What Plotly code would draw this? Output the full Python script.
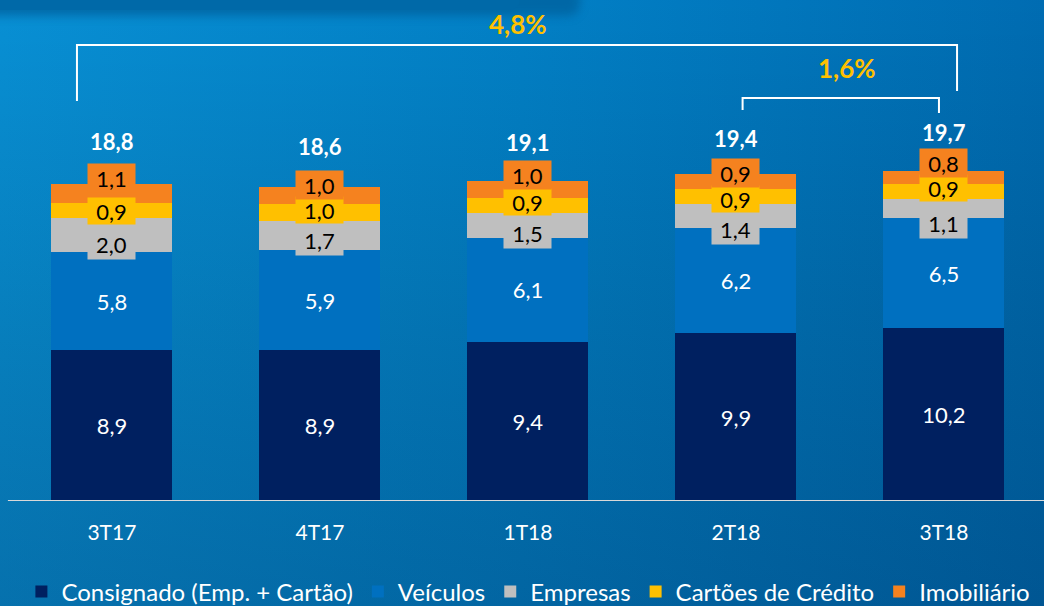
import base64
import plotly.graph_objects as go

# ---------------- data ----------------
categories = ["3T17", "4T17", "1T18", "2T18", "3T18"]
consignado = [8.9, 8.9, 9.4, 9.9, 10.2]
veiculos = [5.8, 5.9, 6.1, 6.2, 6.5]
empresas = [2.0, 1.7, 1.5, 1.4, 1.1]
cartoes = [0.9, 1.0, 0.9, 0.9, 0.9]
imobiliario = [1.1, 1.0, 1.0, 0.9, 0.8]
totals = [18.8, 18.6, 19.1, 19.4, 19.7]
growth_year = 4.8
growth_quarter = 1.6
series_names = ["Consignado (Emp. + Cartão)", "Veículos", "Empresas",
                "Cartões de Crédito", "Imobiliário"]

# ---------------- styles ----------------
colors = ["#002060", "#0070C0", "#BFBFBF", "#FFC000", "#F5821F"]
FONT = "Lato, 'Open Sans', sans-serif"
W, H = 1044, 606


def fmt(v, suffix=""):
    return f"{v:.1f}".replace(".", ",") + suffix


# background gradient as an svg image
svg = f"""<svg xmlns='http://www.w3.org/2000/svg' width='{W}' height='{H}'>
<defs>
<linearGradient id='g' gradientUnits='userSpaceOnUse' x1='0' y1='0' x2='{W}' y2='0'>
<stop offset='0' stop-color='#0890D5'/>
<stop offset='0.5' stop-color='#0280C6'/>
<stop offset='1' stop-color='#006CB2'/>
</linearGradient>
<linearGradient id='v' gradientUnits='userSpaceOnUse' x1='0' y1='0' x2='0' y2='{H}'>
<stop offset='0' stop-color='#000000' stop-opacity='0'/>
<stop offset='1' stop-color='#001030' stop-opacity='0.24'/>
</linearGradient>
<filter id='b' x='-20%' y='-200%' width='140%' height='500%'><feGaussianBlur stdDeviation='5'/></filter>
</defs>
<rect width='{W}' height='{H}' fill='url(#g)'/>
<rect width='{W}' height='{H}' fill='url(#v)'/>
<rect x='-40' y='-60' width='620' height='76' rx='12' fill='#00609C' opacity='0.75' filter='url(#b)'/>
<rect x='-40' y='-60' width='560' height='70' rx='10' fill='#0069A8'/>
</svg>"""
bg_src = "data:image/svg+xml;base64," + base64.b64encode(svg.encode()).decode()

fig = go.Figure()
all_series = [consignado, veiculos, empresas, cartoes, imobiliario]
for i, (name, vals) in enumerate(zip(series_names, all_series)):
    inside = i < 2
    fig.add_trace(go.Bar(
        x=categories, y=vals, name=name,
        marker=dict(color=colors[i], line=dict(width=0)),
        text=[fmt(v) for v in vals] if inside else None,
        textposition="inside" if inside else "none",
        insidetextanchor="middle",
        textangle=0,
        textfont=dict(family=FONT, size=22, color="white"),
        constraintext="none",
        hoverinfo="name+y",
    ))

annotations = []
# boxed labels for small segments (positions come from stacked values)
shifts = {
    4: [15, 11, 14, 9, 14],          # imobiliario
    3: [-0.5, 2.5, 3.5, -2.5, 3.5],  # cartoes
    2: [-9, -4, -7, -13, -14],       # empresas
}
box_h = {4: 28, 3: 26, 2: 30}
for si in [3, 4, 2]:
    for ci, cat in enumerate(categories):
        base = sum(all_series[k][ci] for k in range(si))
        mid = base + all_series[si][ci] / 2
        annotations.append(dict(
            x=cat, y=mid, xref="x", yref="y", text=fmt(all_series[si][ci]),
            showarrow=False, font=dict(family=FONT, size=22, color="black"),
            bgcolor=colors[si], width=47, height=box_h[si], borderpad=0,
            yanchor="middle", yshift=shifts[si][ci]))

total_shift = [41, 39, 35, 34, 35]
for ci, cat in enumerate(categories):
    annotations.append(dict(
        x=cat, y=totals[ci], xref="x", yref="y", text=f"<b>{fmt(totals[ci])}</b>",
        showarrow=False, font=dict(family=FONT, size=22, color="white"),
        yanchor="middle", yshift=total_shift[ci]))

# growth labels
annotations.append(dict(x=518 / W, y=1 - 24 / H, xref="paper", yref="paper",
                        text=f"<b>{fmt(growth_year, '%')}</b>", showarrow=False,
                        yanchor="middle", xanchor="center",
                        font=dict(family=FONT, size=26, color="#FFC000")))
annotations.append(dict(x=847 / W, y=1 - 68 / H, xref="paper", yref="paper",
                        text=f"<b>{fmt(growth_quarter, '%')}</b>", showarrow=False,
                        yanchor="middle", xanchor="center",
                        font=dict(family=FONT, size=26, color="#FFC000")))

shapes = []
# axis baseline
shapes.append(dict(type="line", xref="x", yref="y", x0=-0.5, x1=4.49, y0=0, y1=0,
                   line=dict(color="#D9D9D9", width=2)))


def py(px):
    return 1 - px / H


# big bracket 3T17 -> 3T18
shapes.append(dict(type="path", xref="x", yref="paper",
                   path=f"M -0.168,{py(101)} L -0.168,{py(45)} L 4.063,{py(45)} L 4.063,{py(91)}",
                   line=dict(color="white", width=2)))
# small bracket 2T18 -> 3T18
shapes.append(dict(type="path", xref="x", yref="paper",
                   path=f"M 3.032,{py(110)} L 3.032,{py(98)} L 3.976,{py(98)} L 3.976,{py(113)}",
                   line=dict(color="white", width=2)))

fig.update_layout(
    width=W, height=H,
    barmode="stack", bargap=0.418,
    separators=",.",
    margin=dict(l=0, r=0, t=0, b=0, autoexpand=False),
    paper_bgcolor="#0079BE", plot_bgcolor="rgba(0,0,0,0)",
    images=[dict(source=bg_src, xref="paper", yref="paper", x=0, y=1,
                 sizex=1, sizey=1, sizing="stretch", layer="below",
                 xanchor="left", yanchor="top")],
    xaxis=dict(type="category", categoryorder="array", categoryarray=categories,
               range=[-0.538, 4.481], showgrid=False, zeroline=False,
               showline=False, ticks="", ticklabelstandoff=17,
               tickfont=dict(family=FONT, size=21, color="white"),
               fixedrange=True),
    yaxis=dict(range=[0, 29.56], domain=[105 / H, 1], visible=False,
               fixedrange=True),
    showlegend=True,
    legend=dict(orientation="h", x=0.0205, xanchor="left", y=1 - 592 / H, yanchor="middle",
                font=dict(family=FONT, size=24, color="white"),
                bgcolor="rgba(0,0,0,0)", traceorder="normal",
                itemwidth=30, tracegroupgap=0),
    annotations=annotations,
    shapes=shapes,
    font=dict(family=FONT),
)

fig.write_html("out.html", config={"displayModeBar": False},
               post_script="document.body.style.margin='0';document.body.style.overflow='hidden';")
